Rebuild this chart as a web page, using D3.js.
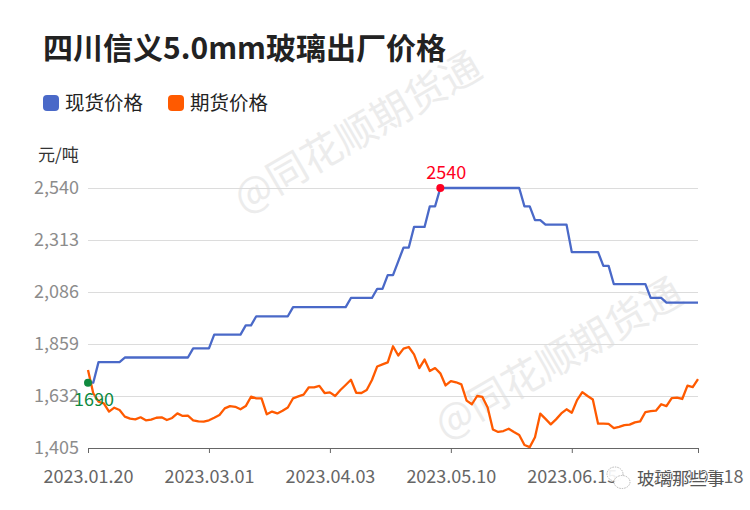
<!DOCTYPE html>
<html>
<head>
<meta charset="utf-8">
<script src="https://cdn.jsdelivr.net/npm/d3@7"></script>
<style>
  html, body { margin: 0; padding: 0; background: #fff; }
  text { font-family: "Noto Sans CJK SC", "Noto Sans", sans-serif; }
</style>
</head>
<body>
<div class="graph"></div>
<script>
const titleText = '四川信义5.0mm玻璃出厂价格'
const unitText = '元/吨'
const seriesNames = ['现货价格', '期货价格']
const seriesColors = ['#4a69c8', '#ff5a00']
const yTicks = [1405, 1632, 1859, 2086, 2313, 2540]
// tick position is the index into the series
const xTickIndex = [0, 23, 46, 69, 92, 116]
const xTickLabels = ['2023.01.20', '2023.03.01', '2023.04.03', '2023.05.10', '2023.06.15', '2023.07.18']
const watermarkText = '@同花顺期货通'
const accountText = '玻璃那些事'

const spotPrice = [
  1690, 1690, 1780, 1780, 1780, 1780, 1780, 1800, 1800, 1800,
  1800, 1800, 1800, 1800, 1800, 1800, 1800, 1800, 1800, 1800,
  1840, 1840, 1840, 1840, 1900, 1900, 1900, 1900, 1900, 1900,
  1940, 1940, 1980, 1980, 1980, 1980, 1980, 1980, 1980, 2020,
  2020, 2020, 2020, 2020, 2020, 2020, 2020, 2020, 2020, 2020,
  2060, 2060, 2060, 2060, 2060, 2100, 2100, 2160, 2160, 2220,
  2280, 2280, 2370, 2370, 2370, 2460, 2460, 2540, 2540, 2540,
  2540, 2540, 2540, 2540, 2540, 2540, 2540, 2540, 2540, 2540,
  2540, 2540, 2540, 2460, 2460, 2400, 2400, 2380, 2380, 2380,
  2380, 2380, 2260, 2260, 2260, 2260, 2260, 2260, 2200, 2200,
  2120, 2120, 2120, 2120, 2120, 2120, 2120, 2060, 2060, 2060,
  2040, 2040, 2040, 2040, 2040, 2040, 2040
]
const futuresPrice = [
  1745, 1644, 1607, 1600, 1564, 1581, 1571, 1542, 1533, 1530,
  1539, 1526, 1529, 1537, 1539, 1527, 1536, 1556, 1545, 1546,
  1526, 1521, 1520, 1526, 1537, 1549, 1578, 1588, 1585, 1574,
  1588, 1629, 1622, 1622, 1552, 1564, 1556, 1568, 1582, 1622,
  1630, 1638, 1670, 1670, 1676, 1645, 1648, 1632, 1658, 1680,
  1703, 1646, 1645, 1658, 1702, 1761, 1770, 1779, 1849, 1809,
  1839, 1846, 1814, 1754, 1791, 1741, 1754, 1731, 1678, 1697,
  1692, 1683, 1612, 1596, 1632, 1628, 1582, 1486, 1475, 1479,
  1489, 1475, 1462, 1418, 1409, 1452, 1555, 1532, 1508, 1530,
  1556, 1574, 1559, 1614, 1649, 1632, 1617, 1511, 1511, 1510,
  1492, 1497, 1505, 1507, 1517, 1521, 1562, 1566, 1568, 1596,
  1588, 1623, 1625, 1619, 1677, 1671, 1706
]
const maxMark = { index: 67, value: 2540, color: '#ff0022' }
const minMark = { index: 0, value: 1690, color: '#0f8a3f' }

const width = 750
const height = 510
const margin = { top: 188, right: 52, bottom: 62, left: 88 }

const svg = d3.select('.graph').append('svg')
  .attr('width', width)
  .attr('height', height)
  .style('display', 'block')

const x = d3.scaleLinear()
  .domain([0, spotPrice.length - 1])
  .range([margin.left, width - margin.right])
const y = d3.scaleLinear()
  .domain([yTicks[0], yTicks[yTicks.length - 1]])
  .range([height - margin.bottom, margin.top])

//水印
const drawWatermark = (cx, cy) => {
  svg.append('text')
    .attr('transform', `translate(${cx},${cy}) rotate(-30)`)
    .attr('text-anchor', 'middle')
    .attr('dominant-baseline', 'middle')
    .attr('font-size', 40)
    .attr('fill', '#ececec')
    .text(watermarkText)
}
drawWatermark(359, 135)
drawWatermark(560, 361)

//标题
svg.append('text')
  .attr('x', 43)
  .attr('y', 59)
  .attr('font-size', 30)
  .attr('font-weight', 700)
  .attr('fill', '#222')
  .text(titleText)

//图例
const legendX = [43, 168]
seriesNames.forEach((name, i) => {
  svg.append('rect')
    .attr('x', legendX[i])
    .attr('y', 95)
    .attr('width', 16)
    .attr('height', 16)
    .attr('rx', 4)
    .attr('fill', seriesColors[i])
  svg.append('text')
    .attr('x', legendX[i] + 22)
    .attr('y', 110)
    .attr('font-size', 19.5)
    .attr('fill', '#222')
    .text(name)
})

svg.append('text')
  .attr('x', 38)
  .attr('y', 161)
  .attr('font-size', 17)
  .attr('fill', '#333')
  .text(unitText)

//y轴和网格线
const yAxis = svg.append('g')
  .attr('transform', `translate(${margin.left},0)`)
  .call(d3.axisLeft(y)
    .tickValues(yTicks)
    .tickFormat(d3.format(','))
    .tickSize(-(width - margin.left - margin.right))
    .tickPadding(9))
yAxis.select('.domain').remove()
yAxis.selectAll('line').attr('stroke', '#dcdcdc')
yAxis.selectAll('text')
  .attr('font-size', 18)
  .attr('fill', '#8c8c8c')
  .style('font-family', '"Noto Sans CJK SC"')

//x轴
const xAxis = svg.append('g')
  .attr('transform', `translate(0,${height - margin.bottom})`)
  .call(d3.axisBottom(x)
    .tickValues(xTickIndex)
    .tickFormat((d, i) => xTickLabels[i])
    .tickSizeOuter(0)
    .tickSize(5)
    .tickPadding(17))
xAxis.select('.domain').attr('stroke', '#666')
xAxis.selectAll('line').attr('stroke', '#666')
xAxis.selectAll('text')
  .attr('font-size', 18)
  .attr('fill', '#666')
  .style('font-family', '"Noto Sans CJK SC"')

//折线
const line = d3.line()
  .x((d, i) => x(i))
  .y(d => y(d))
;[spotPrice, futuresPrice].forEach((values, i) => {
  svg.append('path')
    .datum(values)
    .attr('fill', 'none')
    .attr('stroke', seriesColors[i])
    .attr('stroke-width', 2.3)
    .attr('stroke-linejoin', 'round')
    .attr('d', line)
})

//最高最低点
const drawMark = (mark, dx, dy) => {
  svg.append('circle')
    .attr('cx', x(mark.index))
    .attr('cy', y(mark.value))
    .attr('r', 4)
    .attr('fill', mark.color)
  svg.append('text')
    .attr('x', x(mark.index) + dx)
    .attr('y', y(mark.value) + dy)
    .attr('text-anchor', 'middle')
    .attr('font-size', 18)
    .attr('fill', mark.color)
    .text(String(mark.value))
}
drawMark(maxMark, 6, -9)
drawMark(minMark, 6, 23)

//公众号水印
const wechat = svg.append('g')
  .attr('fill', 'rgba(255,255,255,0.9)')
  .attr('stroke', '#999')
  .attr('stroke-width', 0.7)
  .attr('stroke-dasharray', '1.5 1')
wechat.append('ellipse').attr('cx', 615).attr('cy', 474).attr('rx', 8).attr('ry', 7)
wechat.append('ellipse').attr('cx', 622).attr('cy', 482).attr('rx', 8).attr('ry', 6.5)
svg.append('text')
  .attr('x', 637)
  .attr('y', 485)
  .attr('font-size', 17.5)
  .attr('fill', '#555')
  .attr('stroke', '#fff')
  .attr('stroke-width', 1.5)
  .attr('paint-order', 'stroke')
  .text(accountText)
</script>
</body>
</html>
